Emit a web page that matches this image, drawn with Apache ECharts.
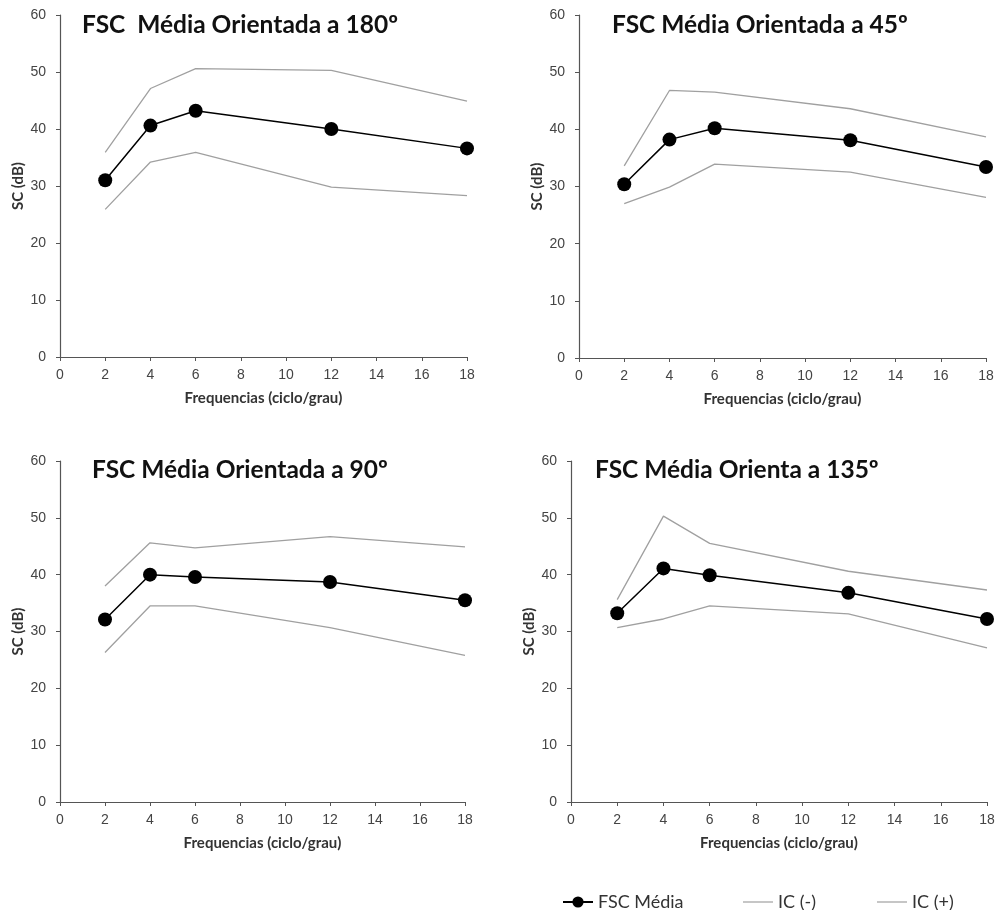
<!DOCTYPE html>
<html>
<head>
<meta charset="utf-8">
<script src="https://cdn.jsdelivr.net/npm/echarts@6/dist/echarts.min.js"></script>
<style>
  html, body { margin: 0; padding: 0; background: #fff; }
  #chart { width: 998px; height: 910px; }
</style>
</head>
<body>
<div id="chart"></div>
<script>
// frequencias (ciclo/grau)
const freqs = [2, 4, 6, 12, 18]

// 180º
const mean180 = [31.0, 40.6, 43.2, 40.0, 36.6]
const low180 = [25.9, 34.2, 35.9, 29.8, 28.3]
const high180 = [35.9, 47.1, 50.6, 50.3, 44.9]

// 45º
const mean45 = [30.4, 38.2, 40.2, 38.1, 33.4]
const low45 = [27.0, 29.9, 33.9, 32.5, 28.1]
const high45 = [33.6, 46.8, 46.5, 43.6, 38.7]

// 90º
const mean90 = [32.1, 40.0, 39.6, 38.7, 35.5]
const low90 = [26.3, 34.5, 34.5, 30.7, 25.8]
const high90 = [38.0, 45.6, 44.7, 46.7, 44.9]

// 135º
const mean135 = [33.2, 41.1, 39.9, 36.8, 32.2]
const low135 = [30.7, 32.2, 34.5, 33.1, 27.1]
const high135 = [35.6, 50.3, 45.5, 40.6, 37.3]

const titles = [
  'FSC  Média Orientada a 180º',
  'FSC Média Orientada a 45º',
  'FSC Média Orientada a 90º',
  'FSC Média Orienta a 135º'
]
const panels = [
  [mean180, low180, high180],
  [mean45, low45, high45],
  [mean90, low90, high90],
  [mean135, low135, high135]
]

const grids = [
  { left: 60, top: 15, width: 407, height: 342 },
  { left: 579, top: 15, width: 407, height: 343 },
  { left: 60, top: 461, width: 405, height: 341 },
  { left: 571, top: 461, width: 416, height: 341 }
]
const titlePos = [
  { left: 77, top: 8 },
  { left: 607, top: 8 },
  { left: 87, top: 453 },
  { left: 590, top: 453 }
]

const pairs = vals => freqs.map((f, i) => [f, vals[i]])
const fontMain = 'Lato, "Open Sans", sans-serif'
const fontTick = 'Arial, "Liberation Sans", sans-serif'

const myChart = echarts.init(document.getElementById('chart'))
const legendText = { fontFamily: fontMain, fontSize: 18, color: '#333' }
const option = {
  backgroundColor: '#fff',
  animation: false,
  title: titles.map((t, i) => ({
    text: t,
    left: titlePos[i].left,
    top: titlePos[i].top,
    textStyle: { fontFamily: fontMain, fontWeight: 'bold', fontSize: 24.5, color: '#111' }
  })),
  legend: [
    {
      data: ['FSC Média'],
      left: 557,
      top: 888,
      itemWidth: 30,
      itemHeight: 14,
      itemGap: 4,
      textStyle: legendText
    },
    {
      data: [{ name: 'IC (-)', icon: 'rect' }],
      left: 738,
      top: 888,
      itemWidth: 30,
      itemHeight: 1.2,
      itemGap: 4,
      textStyle: legendText
    },
    {
      data: [{ name: 'IC (+)', icon: 'rect' }],
      left: 872,
      top: 888,
      itemWidth: 30,
      itemHeight: 1.2,
      itemGap: 4,
      textStyle: legendText
    }
  ],
  grid: grids,
  xAxis: grids.map((g, i) => ({
    type: 'value',
    gridIndex: i,
    min: 0,
    max: 18,
    interval: 2,
    name: 'Frequencias (ciclo/grau)',
    nameLocation: 'middle',
    nameGap: 34,
    nameTextStyle: { fontFamily: fontMain, fontWeight: 'bold', fontSize: 15, color: '#333' },
    axisLine: { lineStyle: { color: '#555', width: 1.2 } },
    axisTick: { show: true, length: 4, lineStyle: { color: '#555' } },
    axisLabel: { fontFamily: fontTick, fontSize: 14, color: '#444', margin: 11 },
    splitLine: { show: false }
  })),
  yAxis: grids.map((g, i) => ({
    type: 'value',
    gridIndex: i,
    min: 0,
    max: 60,
    interval: 10,
    name: 'SC (dB)',
    nameLocation: 'middle',
    nameGap: 34,
    nameTextStyle: { fontFamily: fontMain, fontWeight: 'bold', fontSize: 15, color: '#333' },
    axisLine: { show: true, lineStyle: { color: '#555', width: 1.2 } },
    axisTick: { show: true, length: 4, lineStyle: { color: '#555' } },
    axisLabel: { fontFamily: fontTick, fontSize: 14, color: '#444', margin: 14 },
    splitLine: { show: false }
  })),
  series: []
}

panels.forEach((p, i) => {
  option.series.push(
    {
      name: 'IC (-)',
      type: 'line',
      xAxisIndex: i,
      yAxisIndex: i,
      data: pairs(p[1]),
      symbol: 'none',
      lineStyle: { color: '#a0a0a0', width: 1.3 },
      itemStyle: { color: '#a0a0a0' }
    },
    {
      name: 'IC (+)',
      type: 'line',
      xAxisIndex: i,
      yAxisIndex: i,
      data: pairs(p[2]),
      symbol: 'none',
      lineStyle: { color: '#a0a0a0', width: 1.3 },
      itemStyle: { color: '#a0a0a0' }
    },
    {
      name: 'FSC Média',
      type: 'line',
      xAxisIndex: i,
      yAxisIndex: i,
      data: pairs(p[0]),
      symbol: 'circle',
      symbolSize: 14,
      lineStyle: { color: '#000', width: 1.5 },
      itemStyle: { color: '#000' }
    }
  )
})

myChart.setOption(option)
window.addEventListener('resize', function() {
  myChart.resize()
})
</script>
</body>
</html>
